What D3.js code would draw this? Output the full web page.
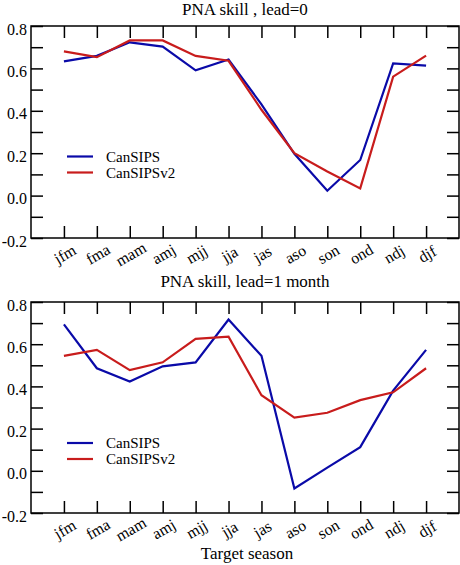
<!DOCTYPE html>
<html>
<head>
<meta charset="utf-8">
<script src="https://cdn.jsdelivr.net/npm/d3@7"></script>
<style>
  html, body { margin: 0; padding: 0; background: #fff; }
  svg { display: block; }
  text { font-family: "Liberation Serif", "Times New Roman", serif; fill: #000; }
</style>
</head>
<body>
<svg id="chart" width="460" height="565"></svg>
<script>
const categories = ["jfm","fma","mam","amj","mjj","jja","jas","aso","son","ond","ndj","djf"];
const seriesNames = ["CanSIPS", "CanSIPSv2"];
const seriesColors = ["#0a0aa8", "#c81c1c"];
const lead0_CanSIPS   = [0.633, 0.659, 0.723, 0.703, 0.591, 0.642, 0.430, 0.197, 0.023, 0.168, 0.624, 0.613];
const lead0_CanSIPSv2 = [0.680, 0.653, 0.732, 0.732, 0.659, 0.636, 0.405, 0.200, 0.114, 0.034, 0.561, 0.660];
const lead1_CanSIPS   = [0.694, 0.486, 0.423, 0.495, 0.514, 0.717, 0.545, -0.084, 0.015, 0.112, 0.380, 0.573];
const lead1_CanSIPSv2 = [0.545, 0.573, 0.477, 0.514, 0.625, 0.636, 0.358, 0.252, 0.275, 0.335, 0.372, 0.486];
const yTicks = [-0.2, 0.0, 0.2, 0.4, 0.6, 0.8];
const yMinorTicks = [-0.1, 0.1, 0.3, 0.5, 0.7];
const titles = ["PNA skill , lead=0", "PNA skill, lead=1 month"];
const xTitle = "Target season";

const svg = d3.select("#chart");
const left = 31, right = 459, tickLen = 12;

const panels = [
  { top: 26, bottom: 238, title: titles[0], titleY: 15, legendY: 156.5, data: [lead0_CanSIPS, lead0_CanSIPSv2] },
  { top: 302, bottom: 513, title: titles[1], titleY: 287, legendY: 443, data: [lead1_CanSIPS, lead1_CanSIPSv2] }
];

const x = d3.scalePoint().domain(categories).range([left, right]).padding(1);

panels.forEach(p => {
  const y = d3.scaleLinear().domain([-0.2, 0.8]).range([p.bottom, p.top]);
  const g = svg.append("g");

  g.append("text").attr("x", 245).attr("y", p.titleY)
    .attr("text-anchor", "middle").style("font-size", "17px").text(p.title);

  const axB = d3.axisBottom(x).tickSize(-tickLen).tickFormat("");
  const axT = d3.axisTop(x).tickSize(-tickLen).tickFormat("");
  const axL = d3.axisLeft(y).tickValues(yTicks).tickSize(-tickLen).tickFormat(d => d.toFixed(1));
  const axLm = d3.axisLeft(y).tickValues(yMinorTicks).tickSize(-tickLen).tickFormat("");
  const axR = d3.axisRight(y).tickValues(yTicks.concat(yMinorTicks)).tickSize(-tickLen).tickFormat("");

  g.append("g").attr("transform", `translate(0,${p.bottom})`).call(axB);
  g.append("g").attr("transform", `translate(0,${p.top})`).call(axT);
  const gl = g.append("g").attr("transform", `translate(${left},0)`).call(axL);
  g.append("g").attr("transform", `translate(${left},0)`).call(axLm);
  g.append("g").attr("transform", `translate(${right},0)`).call(axR);

  g.selectAll(".domain").remove();
  g.selectAll(".tick line").attr("stroke", "#000").attr("stroke-width", 1.5);
  gl.selectAll(".tick text").attr("x", -4).attr("dy", "0.5em")
    .style("font-size", "16px").style("font-family", "Liberation Serif").attr("fill", "#000");

  g.append("g").selectAll("text").data(categories).join("text")
    .attr("transform", d => `translate(${x(d) + 1},${p.bottom + 16}) rotate(-30)`)
    .attr("text-anchor", "middle").attr("dy", "0.35em")
    .style("font-size", "16px").text(d => d);

  g.append("rect").attr("x", left).attr("y", p.top)
    .attr("width", right - left).attr("height", p.bottom - p.top)
    .attr("fill", "none").attr("stroke", "#000").attr("stroke-width", 1.5);

  const line = d3.line().x((d, i) => x(categories[i])).y(d => y(d));
  p.data.forEach((s, k) => {
    g.append("path").datum(s).attr("d", line)
      .attr("fill", "none").attr("stroke", seriesColors[k]).attr("stroke-width", 2.2);
  });

  seriesNames.forEach((name, k) => {
    const ly = p.legendY + k * 16;
    g.append("line").attr("x1", 67).attr("x2", 93).attr("y1", ly).attr("y2", ly)
      .attr("stroke", seriesColors[k]).attr("stroke-width", 2.2);
    g.append("text").attr("x", 106).attr("y", ly + 5).style("font-size", "15px").text(name);
  });
});

svg.append("text").attr("x", 247).attr("y", 559).attr("text-anchor", "middle")
  .style("font-size", "17px").text(xTitle);
</script>
</body>
</html>
